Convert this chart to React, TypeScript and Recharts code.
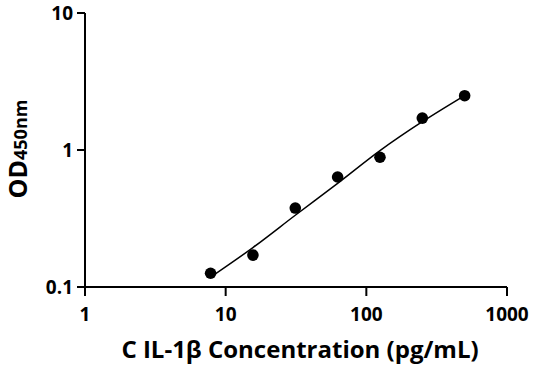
import React from 'react';
import { ScatterChart, Scatter, XAxis, YAxis } from 'recharts';

// standard curve: concentration (pg/mL) vs OD450
const concentrations = [7.8125, 15.625, 31.25, 62.5, 125, 250, 500];
const odValues = [0.126, 0.171, 0.377, 0.635, 0.885, 1.71, 2.49];
const fitValues = [0.118, 0.194, 0.334, 0.571, 0.99, 1.61, 2.5];
const xTicks = [1, 10, 100, 1000];
const yTicks = [0.1, 1, 10];

const points = concentrations.map((c, i) => ({ conc: c, od: odValues[i] }));
const fit = concentrations.map((c, i) => ({ conc: c, od: fitValues[i] }));

const FONT = '"Open Sans", "Noto Sans", sans-serif';
const tickStyle = { fill: '#000', fontSize: 19, fontWeight: 700, fontFamily: FONT };

function XTitle(props: any) {
  const { viewBox } = props;
  const cx = viewBox.x + viewBox.width / 2 + 4;
  return (
    <text x={cx} y={358} textAnchor="middle" fill="#000" fontSize={24} fontWeight={700} fontFamily={FONT}>
      C IL-1β Concentration (pg/mL)
    </text>
  );
}

function YTitle(props: any) {
  const { viewBox } = props;
  const cy = viewBox.y + viewBox.height / 2 - 1;
  const cx = 27;
  return (
    <text
      x={cx}
      y={cy}
      transform={`rotate(-90, ${cx}, ${cy})`}
      textAnchor="middle"
      fill="#000"
      fontWeight={700}
      fontFamily={FONT}
    >
      <tspan fontSize={25}>OD</tspan>
      <tspan fontSize={18}>450nm</tspan>
    </text>
  );
}

function Dot(props: any) {
  const { cx, cy } = props;
  return <circle cx={cx} cy={cy} r={5.8} fill="#000" />;
}

export default function App() {
  return (
    <div style={{ position: 'absolute', left: 0, top: 0, width: 536, height: 371, background: '#fff' }}>
      <ScatterChart width={536} height={371} margin={{ top: 13, right: 29, bottom: 24, left: 25 }}>
        <XAxis
          type="number"
          dataKey="conc"
          scale="log"
          domain={[1, 1000]}
          ticks={xTicks}
          allowDataOverflow
          height={60}
          stroke="#000"
          strokeWidth={2}
          tickSize={9}
          tickMargin={12}
          tick={tickStyle}
          label={<XTitle />}
        />
        <YAxis
          type="number"
          dataKey="od"
          scale="log"
          domain={[0.1, 10]}
          ticks={yTicks}
          allowDataOverflow
          width={60}
          stroke="#000"
          strokeWidth={2}
          tickSize={8}
          tickMargin={4}
          tick={tickStyle}
          label={<YTitle />}
        />
        <Scatter
          data={fit}
          line={{ stroke: '#000', strokeWidth: 1.5 }}
          lineJointType="monotoneX"
          shape={() => <g />}
          isAnimationActive={false}
        />
        <Scatter data={points} shape={<Dot />} isAnimationActive={false} />
      </ScatterChart>
    </div>
  );
}
